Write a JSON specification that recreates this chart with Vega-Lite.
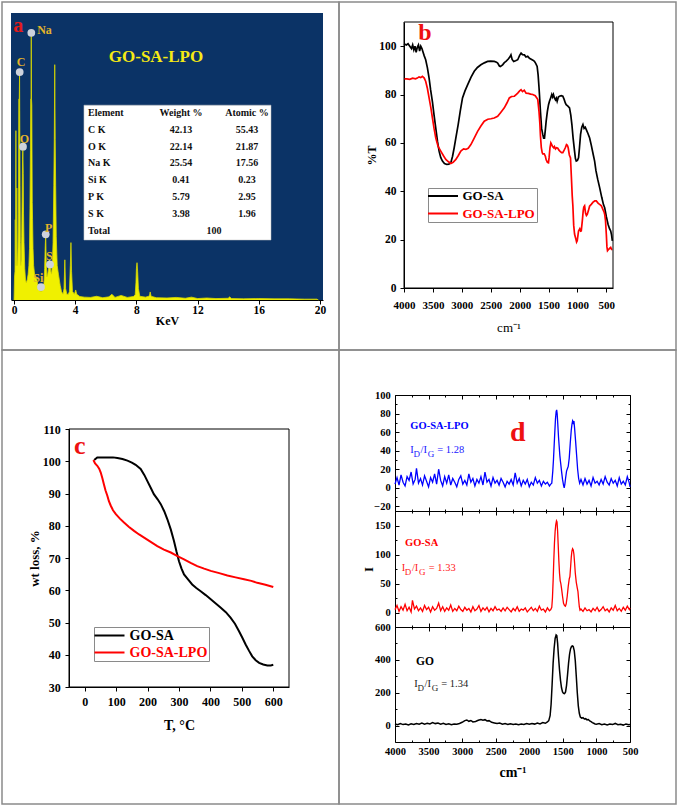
{
"$schema": "https://vega.github.io/schema/vega-lite/v6.json",
"background": "white",
"padding": {"left": 1, "top": 1, "right": 2, "bottom": 2},
"spacing": 0,
"bounds": "flush",
"columns": 2,
"resolve": {"scale": {"color": "independent"}, "legend": {"color": "independent"}},
"config": {
  "view": {"stroke": "#8a8a8a", "strokeWidth": 1.5},
  "concat": {"spacing": 0},
  "axis": {"labelFont": "Liberation Serif", "titleFont": "Liberation Serif", "labelFontWeight": "bold", "titleFontWeight": "bold", "labelColor": "#000", "titleColor": "#000", "domainColor": "#000", "tickColor": "#000", "grid": false, "labelOverlap": false, "labelFlush": false, "domainWidth": 1, "tickWidth": 1, "zindex": 1},
  "legend": {"labelFont": "Liberation Serif", "titleFont": "Liberation Serif"},
  "text": {"font": "Liberation Serif"}
},
"concat": [
{
 "width": 337, "height": 348,
 "layer": [
  {"layer": [
    {"data": {"values": [{}]}, "mark": {"type": "rect", "fill": "#0b3366"},
     "encoding": {
      "x": {"datum": -0.2, "type": "quantitative", "scale": {"domain": [-0.2, 20.2], "range": [9, 321], "nice": false, "zero": false},
            "axis": {"orient": "bottom", "offset": -50, "values": [0,1,2,3,4,5,6,7,8,9,10,11,12,13,14,15,16,17,18,19,20], "labelExpr": "datum.value % 2 === 0 ? datum.label : ''", "tickSize": {"condition": {"test": "datum.value % 2 !== 0", "value": 2}, "value": 4}, "labelPadding": 0, "labelFontSize": 11.5, "title": "KeV", "titleFontSize": 12, "titlePadding": 0}},
      "x2": {"datum": 20.2},
      "y": {"datum": 0, "type": "quantitative", "scale": {"domain": [0, 100], "range": [298, 11], "nice": false, "zero": false}, "axis": null},
      "y2": {"datum": 100}}},
    {"data": {"name": "eds", "values": [
      {"e":0,"c":0},{"e":0.03,"c":8},{"e":0.06,"c":10},{"e":0.08,"c":28},{"e":0.1,"c":12},{"e":0.12,"c":59},{"e":0.14,"c":16},{"e":0.16,"c":12},{"e":0.18,"c":39},{"e":0.2,"c":14},{"e":0.23,"c":12},{"e":0.26,"c":18},{"e":0.29,"c":30},{"e":0.31,"c":70},{"e":0.34,"c":70},{"e":0.36,"c":79},{"e":0.37,"c":66},{"e":0.39,"c":40},{"e":0.41,"c":20},{"e":0.44,"c":12},{"e":0.47,"c":14},{"e":0.5,"c":22},{"e":0.53,"c":36},{"e":0.555,"c":49},{"e":0.575,"c":53},{"e":0.6,"c":44},{"e":0.62,"c":30},{"e":0.65,"c":20},{"e":0.7,"c":11},{"e":0.75,"c":7},{"e":0.8,"c":6},{"e":0.86,"c":7},{"e":0.92,"c":9},{"e":0.97,"c":12},{"e":1.01,"c":18},{"e":1.04,"c":32},{"e":1.07,"c":52},{"e":1.09,"c":70},{"e":1.11,"c":70},{"e":1.125,"c":93},{"e":1.14,"c":70},{"e":1.16,"c":68},{"e":1.19,"c":34},{"e":1.21,"c":28},{"e":1.24,"c":18},{"e":1.28,"c":12},{"e":1.34,"c":9},{"e":1.42,"c":8},{"e":1.5,"c":7},{"e":1.6,"c":4},{"e":1.7,"c":3},{"e":1.76,"c":4},{"e":1.82,"c":3},{"e":1.9,"c":4},{"e":1.96,"c":6},{"e":2.0,"c":11},{"e":2.04,"c":19},{"e":2.07,"c":23},{"e":2.1,"c":14},{"e":2.15,"c":8},{"e":2.2,"c":9},{"e":2.26,"c":11},{"e":2.31,"c":14},{"e":2.35,"c":12.5},{"e":2.4,"c":10},{"e":2.45,"c":9},{"e":2.5,"c":12},{"e":2.55,"c":20},{"e":2.6,"c":40},{"e":2.63,"c":56},{"e":2.66,"c":82},{"e":2.69,"c":56},{"e":2.72,"c":40},{"e":2.76,"c":22},{"e":2.82,"c":12},{"e":2.9,"c":9},{"e":2.96,"c":7},{"e":3.02,"c":5},{"e":3.1,"c":3},{"e":3.2,"c":2},{"e":3.27,"c":4},{"e":3.32,"c":14},{"e":3.37,"c":4},{"e":3.45,"c":2},{"e":3.55,"c":2},{"e":3.62,"c":3},{"e":3.68,"c":12},{"e":3.72,"c":20},{"e":3.76,"c":10},{"e":3.82,"c":3},{"e":3.95,"c":2},{"e":4.03,"c":3.5},{"e":4.1,"c":2},{"e":4.3,"c":1.2},{"e":4.6,"c":1},{"e":5.0,"c":0.9},{"e":5.4,"c":1.3},{"e":5.8,"c":0.8},{"e":6.2,"c":1.1},{"e":6.4,"c":2},{"e":6.6,"c":0.9},{"e":7.0,"c":1.6},{"e":7.4,"c":0.9},{"e":7.8,"c":1.2},{"e":7.92,"c":1.8},{"e":7.97,"c":6},{"e":8.0,"c":11},{"e":8.04,"c":13},{"e":8.08,"c":10},{"e":8.13,"c":4},{"e":8.22,"c":1.3},{"e":8.6,"c":1},{"e":8.85,"c":1.4},{"e":8.9,"c":2.8},{"e":8.96,"c":1.3},{"e":9.3,"c":0.8},{"e":10.0,"c":0.7},{"e":10.6,"c":0.9},{"e":11.2,"c":0.6},{"e":11.6,"c":1},{"e":12.0,"c":0.5},{"e":12.6,"c":0.7},{"e":13.2,"c":0.5},{"e":14.0,"c":0.6},{"e":14.1,"c":1.1},{"e":14.2,"c":0.5},{"e":15.0,"c":0.4},{"e":16.0,"c":0.5},{"e":17.0,"c":0.4},{"e":18.0,"c":0.4},{"e":19.0,"c":0.3},{"e":19.8,"c":0.3},{"e":19.9,"c":0}]},
     "mark": {"type": "area", "color": "#f0f000", "interpolate": "linear"},
     "encoding": {"x": {"field": "e", "type": "quantitative"}, "y": {"field": "c", "type": "quantitative"}}},
    {"data": {"name": "eds"}, "mark": {"type": "line", "color": "#d9d900", "strokeWidth": 0.8},
     "encoding": {"x": {"field": "e", "type": "quantitative"}, "y": {"field": "c", "type": "quantitative"}}},
    {"data": {"name": "mk", "values": [
      {"el":"Na","e":1.128,"c":93.1,"lx":1.99,"ly":94},
      {"el":"C","e":0.369,"c":79.4,"lx":0.454,"ly":82.9},
      {"el":"O","e":0.585,"c":53.4,"lx":0.67,"ly":56.2},
      {"el":"P","e":2.07,"c":22.9,"lx":2.266,"ly":25.0},
      {"el":"S","e":2.35,"c":12.4,"lx":2.305,"ly":15.3},
      {"el":"Si","e":1.76,"c":4.5,"lx":1.585,"ly":7.8}]},
     "mark": {"type": "point", "filled": true, "color": "#cdd2dc", "size": 60, "opacity": 1},
     "encoding": {"x": {"field": "e", "type": "quantitative"}, "y": {"field": "c", "type": "quantitative"}}},
    {"data": {"name": "mk"}, "mark": {"type": "text", "color": "#e2b42a", "fontWeight": "bold", "fontSize": 12, "baseline": "middle", "align": "center"},
     "encoding": {"x": {"field": "lx", "type": "quantitative"}, "y": {"field": "ly", "type": "quantitative"}, "text": {"field": "el"}}},
    {"data": {"values": [{"t": "a"}]}, "mark": {"type": "text", "color": "#e31b1b", "fontWeight": "bold", "fontSize": 20, "baseline": "alphabetic", "align": "center"},
     "encoding": {"x": {"datum": 0.28, "type": "quantitative"}, "y": {"datum": 93.5, "type": "quantitative"}, "text": {"field": "t"}}},
    {"data": {"values": [{"t": "GO-SA-LPO"}]}, "mark": {"type": "text", "color": "#f5ea14", "fontWeight": "bold", "fontSize": 17, "baseline": "middle", "align": "center"},
     "encoding": {"x": {"datum": 9.28, "type": "quantitative"}, "y": {"datum": 84.7, "type": "quantitative"}, "text": {"field": "t"}}},
    {"data": {"values": [{}]}, "mark": {"type": "rect", "fill": "#ffffff", "stroke": "#bbbbbb", "strokeWidth": 0.5},
     "encoding": {"x": {"datum": 4.57, "type": "quantitative"}, "x2": {"datum": 16.8}, "y": {"datum": 20.9, "type": "quantitative"}, "y2": {"datum": 67.9}}}
  ]},
  {"data": {"values": [
     {"r":0,"el":"Element","w":"Weight %","at":"Atomic %","tt":""},
     {"r":1,"el":"C K","w":"42.13","at":"55.43","tt":""},
     {"r":2,"el":"O K","w":"22.14","at":"21.87","tt":""},
     {"r":3,"el":"Na K","w":"25.54","at":"17.56","tt":""},
     {"r":4,"el":"Si K","w":"0.41","at":"0.23","tt":""},
     {"r":5,"el":"P K","w":"5.79","at":"2.95","tt":""},
     {"r":6,"el":"S K","w":"3.98","at":"1.96","tt":""},
     {"r":7,"el":"Total","w":"","at":"","tt":"100"}]},
   "layer": [
    {"mark": {"type": "text", "align": "left", "baseline": "middle", "fontSize": 10, "fontWeight": "bold", "color": "#111"},
     "encoding": {"x": {"datum": 4.84, "type": "quantitative"}, "y": {"field": "r", "type": "quantitative", "scale": {"domain": [0, 7], "range": [110.7, 229], "nice": false, "zero": false}, "axis": null}, "text": {"field": "el"}}},
    {"mark": {"type": "text", "align": "center", "baseline": "middle", "fontSize": 10, "fontWeight": "bold", "color": "#111"},
     "encoding": {"x": {"datum": 10.92, "type": "quantitative"}, "y": {"field": "r", "type": "quantitative"}, "text": {"field": "w"}}},
    {"mark": {"type": "text", "align": "center", "baseline": "middle", "fontSize": 10, "fontWeight": "bold", "color": "#111"},
     "encoding": {"x": {"datum": 15.23, "type": "quantitative"}, "y": {"field": "r", "type": "quantitative"}, "text": {"field": "at"}}},
    {"mark": {"type": "text", "align": "center", "baseline": "middle", "fontSize": 10, "fontWeight": "bold", "color": "#111"},
     "encoding": {"x": {"datum": 13.08, "type": "quantitative"}, "y": {"field": "r", "type": "quantitative"}, "text": {"field": "tt"}}}
   ]}
 ],
 "resolve": {"scale": {"y": "independent"}, "axis": {"y": "independent"}}
},
{
 "width": 337, "height": 348,
 "layer": [
  {"data": {"values": [
{"s":"GO-SA","w":4000,"t":101},{"s":"GO-SA","w":3960,"t":100.5},{"s":"GO-SA","w":3930,"t":101},{"s":"GO-SA","w":3900,"t":100},{"s":"GO-SA","w":3870,"t":99},{"s":"GO-SA","w":3850,"t":100.5},{"s":"GO-SA","w":3830,"t":98.5},{"s":"GO-SA","w":3810,"t":100},{"s":"GO-SA","w":3790,"t":97.5},{"s":"GO-SA","w":3770,"t":99.5},{"s":"GO-SA","w":3750,"t":100.5},{"s":"GO-SA","w":3730,"t":98},{"s":"GO-SA","w":3710,"t":100},{"s":"GO-SA","w":3690,"t":99},{"s":"GO-SA","w":3670,"t":97.5},{"s":"GO-SA","w":3650,"t":96},{"s":"GO-SA","w":3625,"t":94.4},{"s":"GO-SA","w":3595,"t":91},{"s":"GO-SA","w":3566,"t":86.8},{"s":"GO-SA","w":3540,"t":82},{"s":"GO-SA","w":3508,"t":77},{"s":"GO-SA","w":3480,"t":71.5},{"s":"GO-SA","w":3450,"t":66},{"s":"GO-SA","w":3420,"t":60.5},{"s":"GO-SA","w":3393,"t":56.6},{"s":"GO-SA","w":3365,"t":54},{"s":"GO-SA","w":3335,"t":52.5},{"s":"GO-SA","w":3300,"t":51.5},{"s":"GO-SA","w":3260,"t":51.1},{"s":"GO-SA","w":3225,"t":51.2},{"s":"GO-SA","w":3190,"t":51.8},{"s":"GO-SA","w":3160,"t":54.5},{"s":"GO-SA","w":3132,"t":58},{"s":"GO-SA","w":3100,"t":62.5},{"s":"GO-SA","w":3063,"t":67.6},{"s":"GO-SA","w":3025,"t":73.5},{"s":"GO-SA","w":2988,"t":78.6},{"s":"GO-SA","w":2945,"t":81.5},{"s":"GO-SA","w":2900,"t":84},{"s":"GO-SA","w":2840,"t":87.2},{"s":"GO-SA","w":2785,"t":89.6},{"s":"GO-SA","w":2730,"t":91.2},{"s":"GO-SA","w":2670,"t":92.3},{"s":"GO-SA","w":2610,"t":93.1},{"s":"GO-SA","w":2554,"t":93.7},{"s":"GO-SA","w":2500,"t":93.8},{"s":"GO-SA","w":2438,"t":93.7},{"s":"GO-SA","w":2400,"t":93.4},{"s":"GO-SA","w":2380,"t":93},{"s":"GO-SA","w":2350,"t":91.8},{"s":"GO-SA","w":2334,"t":91.6},{"s":"GO-SA","w":2310,"t":92},{"s":"GO-SA","w":2294,"t":92.3},{"s":"GO-SA","w":2265,"t":93.2},{"s":"GO-SA","w":2236,"t":93.7},{"s":"GO-SA","w":2200,"t":94.6},{"s":"GO-SA","w":2170,"t":95.5},{"s":"GO-SA","w":2150,"t":96.4},{"s":"GO-SA","w":2130,"t":94.5},{"s":"GO-SA","w":2103,"t":93.7},{"s":"GO-SA","w":2070,"t":94},{"s":"GO-SA","w":2033,"t":94.4},{"s":"GO-SA","w":2000,"t":96.2},{"s":"GO-SA","w":1975,"t":97.1},{"s":"GO-SA","w":1950,"t":96.5},{"s":"GO-SA","w":1917,"t":96.4},{"s":"GO-SA","w":1890,"t":95.5},{"s":"GO-SA","w":1860,"t":95.8},{"s":"GO-SA","w":1830,"t":95},{"s":"GO-SA","w":1800,"t":94.6},{"s":"GO-SA","w":1770,"t":94.2},{"s":"GO-SA","w":1744,"t":93.7},{"s":"GO-SA","w":1720,"t":92.8},{"s":"GO-SA","w":1697,"t":91.6},{"s":"GO-SA","w":1680,"t":88},{"s":"GO-SA","w":1665,"t":83},{"s":"GO-SA","w":1657,"t":80},{"s":"GO-SA","w":1640,"t":73},{"s":"GO-SA","w":1620,"t":66},{"s":"GO-SA","w":1600,"t":63.5},{"s":"GO-SA","w":1585,"t":62},{"s":"GO-SA","w":1570,"t":62},{"s":"GO-SA","w":1555,"t":65.5},{"s":"GO-SA","w":1541,"t":69},{"s":"GO-SA","w":1520,"t":73},{"s":"GO-SA","w":1500,"t":75.8},{"s":"GO-SA","w":1484,"t":77.2},{"s":"GO-SA","w":1465,"t":78.5},{"s":"GO-SA","w":1444,"t":80},{"s":"GO-SA","w":1430,"t":79},{"s":"GO-SA","w":1415,"t":80},{"s":"GO-SA","w":1398,"t":78.6},{"s":"GO-SA","w":1380,"t":77.8},{"s":"GO-SA","w":1365,"t":78.5},{"s":"GO-SA","w":1351,"t":77.2},{"s":"GO-SA","w":1330,"t":79},{"s":"GO-SA","w":1311,"t":79.3},{"s":"GO-SA","w":1280,"t":79.5},{"s":"GO-SA","w":1253,"t":79.3},{"s":"GO-SA","w":1230,"t":78},{"s":"GO-SA","w":1210,"t":76.5},{"s":"GO-SA","w":1195,"t":75.8},{"s":"GO-SA","w":1165,"t":75.2},{"s":"GO-SA","w":1137,"t":74.5},{"s":"GO-SA","w":1115,"t":71.5},{"s":"GO-SA","w":1096,"t":67.6},{"s":"GO-SA","w":1075,"t":62},{"s":"GO-SA","w":1050,"t":56.6},{"s":"GO-SA","w":1035,"t":53.5},{"s":"GO-SA","w":1021,"t":52.5},{"s":"GO-SA","w":1000,"t":52.8},{"s":"GO-SA","w":981,"t":53.8},{"s":"GO-SA","w":965,"t":58},{"s":"GO-SA","w":946,"t":63.5},{"s":"GO-SA","w":925,"t":66.5},{"s":"GO-SA","w":905,"t":67.6},{"s":"GO-SA","w":885,"t":66},{"s":"GO-SA","w":865,"t":66.5},{"s":"GO-SA","w":847,"t":65.5},{"s":"GO-SA","w":820,"t":64},{"s":"GO-SA","w":789,"t":62},{"s":"GO-SA","w":760,"t":59},{"s":"GO-SA","w":730,"t":55.5},{"s":"GO-SA","w":703,"t":52.5},{"s":"GO-SA","w":680,"t":48.5},{"s":"GO-SA","w":650,"t":45},{"s":"GO-SA","w":616,"t":41.5},{"s":"GO-SA","w":580,"t":37.5},{"s":"GO-SA","w":550,"t":34.5},{"s":"GO-SA","w":529,"t":33.2},{"s":"GO-SA","w":500,"t":29.5},{"s":"GO-SA","w":471,"t":26.4},{"s":"GO-SA","w":445,"t":24.5},{"s":"GO-SA","w":425,"t":23.6},{"s":"GO-SA","w":410,"t":22},{"s":"GO-SA","w":396,"t":19.5},
{"s":"GO-SA-LPO","w":4000,"t":86.5},{"s":"GO-SA-LPO","w":3950,"t":86.5},{"s":"GO-SA-LPO","w":3900,"t":86.3},{"s":"GO-SA-LPO","w":3850,"t":86.8},{"s":"GO-SA-LPO","w":3800,"t":86.5},{"s":"GO-SA-LPO","w":3770,"t":86.8},{"s":"GO-SA-LPO","w":3740,"t":87.3},{"s":"GO-SA-LPO","w":3710,"t":87},{"s":"GO-SA-LPO","w":3682,"t":87.5},{"s":"GO-SA-LPO","w":3650,"t":86.8},{"s":"GO-SA-LPO","w":3624,"t":85.4},{"s":"GO-SA-LPO","w":3595,"t":82.5},{"s":"GO-SA-LPO","w":3566,"t":78.6},{"s":"GO-SA-LPO","w":3535,"t":74.5},{"s":"GO-SA-LPO","w":3508,"t":70.3},{"s":"GO-SA-LPO","w":3480,"t":66},{"s":"GO-SA-LPO","w":3450,"t":62},{"s":"GO-SA-LPO","w":3410,"t":58.5},{"s":"GO-SA-LPO","w":3364,"t":56.6},{"s":"GO-SA-LPO","w":3320,"t":54.8},{"s":"GO-SA-LPO","w":3277,"t":53.2},{"s":"GO-SA-LPO","w":3230,"t":52.2},{"s":"GO-SA-LPO","w":3190,"t":51.5},{"s":"GO-SA-LPO","w":3150,"t":52},{"s":"GO-SA-LPO","w":3103,"t":53.2},{"s":"GO-SA-LPO","w":3060,"t":54.8},{"s":"GO-SA-LPO","w":3017,"t":56.6},{"s":"GO-SA-LPO","w":2970,"t":57.5},{"s":"GO-SA-LPO","w":2930,"t":57.3},{"s":"GO-SA-LPO","w":2890,"t":57.8},{"s":"GO-SA-LPO","w":2843,"t":59.3},{"s":"GO-SA-LPO","w":2790,"t":61.8},{"s":"GO-SA-LPO","w":2727,"t":64.8},{"s":"GO-SA-LPO","w":2670,"t":67},{"s":"GO-SA-LPO","w":2612,"t":69},{"s":"GO-SA-LPO","w":2550,"t":69.8},{"s":"GO-SA-LPO","w":2496,"t":70},{"s":"GO-SA-LPO","w":2440,"t":70.3},{"s":"GO-SA-LPO","w":2380,"t":71},{"s":"GO-SA-LPO","w":2330,"t":72.5},{"s":"GO-SA-LPO","w":2265,"t":74.5},{"s":"GO-SA-LPO","w":2220,"t":76.5},{"s":"GO-SA-LPO","w":2178,"t":78.6},{"s":"GO-SA-LPO","w":2140,"t":79.2},{"s":"GO-SA-LPO","w":2091,"t":79.3},{"s":"GO-SA-LPO","w":2060,"t":80},{"s":"GO-SA-LPO","w":2033,"t":80.6},{"s":"GO-SA-LPO","w":2000,"t":81.5},{"s":"GO-SA-LPO","w":1975,"t":82},{"s":"GO-SA-LPO","w":1950,"t":81.2},{"s":"GO-SA-LPO","w":1920,"t":81.8},{"s":"GO-SA-LPO","w":1888,"t":80.6},{"s":"GO-SA-LPO","w":1850,"t":80.5},{"s":"GO-SA-LPO","w":1810,"t":80.2},{"s":"GO-SA-LPO","w":1773,"t":80},{"s":"GO-SA-LPO","w":1730,"t":79.5},{"s":"GO-SA-LPO","w":1700,"t":78.5},{"s":"GO-SA-LPO","w":1686,"t":77.9},{"s":"GO-SA-LPO","w":1665,"t":73},{"s":"GO-SA-LPO","w":1650,"t":68},{"s":"GO-SA-LPO","w":1640,"t":63},{"s":"GO-SA-LPO","w":1625,"t":58},{"s":"GO-SA-LPO","w":1610,"t":56},{"s":"GO-SA-LPO","w":1600,"t":55.5},{"s":"GO-SA-LPO","w":1575,"t":55.5},{"s":"GO-SA-LPO","w":1555,"t":54.5},{"s":"GO-SA-LPO","w":1541,"t":53},{"s":"GO-SA-LPO","w":1520,"t":52},{"s":"GO-SA-LPO","w":1501,"t":51.8},{"s":"GO-SA-LPO","w":1490,"t":54},{"s":"GO-SA-LPO","w":1475,"t":58},{"s":"GO-SA-LPO","w":1460,"t":60},{"s":"GO-SA-LPO","w":1445,"t":59.3},{"s":"GO-SA-LPO","w":1430,"t":58.5},{"s":"GO-SA-LPO","w":1410,"t":58},{"s":"GO-SA-LPO","w":1398,"t":58.5},{"s":"GO-SA-LPO","w":1380,"t":57.5},{"s":"GO-SA-LPO","w":1360,"t":58},{"s":"GO-SA-LPO","w":1340,"t":57.8},{"s":"GO-SA-LPO","w":1320,"t":57},{"s":"GO-SA-LPO","w":1300,"t":56.5},{"s":"GO-SA-LPO","w":1275,"t":56},{"s":"GO-SA-LPO","w":1253,"t":56},{"s":"GO-SA-LPO","w":1230,"t":57},{"s":"GO-SA-LPO","w":1210,"t":58},{"s":"GO-SA-LPO","w":1190,"t":59.3},{"s":"GO-SA-LPO","w":1175,"t":59},{"s":"GO-SA-LPO","w":1160,"t":58},{"s":"GO-SA-LPO","w":1140,"t":55},{"s":"GO-SA-LPO","w":1120,"t":53.8},{"s":"GO-SA-LPO","w":1105,"t":46},{"s":"GO-SA-LPO","w":1090,"t":38},{"s":"GO-SA-LPO","w":1079,"t":34},{"s":"GO-SA-LPO","w":1065,"t":26},{"s":"GO-SA-LPO","w":1050,"t":22.3},{"s":"GO-SA-LPO","w":1030,"t":20.5},{"s":"GO-SA-LPO","w":1015,"t":19},{"s":"GO-SA-LPO","w":1004,"t":19.5},{"s":"GO-SA-LPO","w":990,"t":22},{"s":"GO-SA-LPO","w":981,"t":23.6},{"s":"GO-SA-LPO","w":960,"t":24.5},{"s":"GO-SA-LPO","w":945,"t":23.5},{"s":"GO-SA-LPO","w":934,"t":23.6},{"s":"GO-SA-LPO","w":915,"t":28},{"s":"GO-SA-LPO","w":900,"t":32},{"s":"GO-SA-LPO","w":890,"t":33.5},{"s":"GO-SA-LPO","w":876,"t":34},{"s":"GO-SA-LPO","w":860,"t":31},{"s":"GO-SA-LPO","w":845,"t":30},{"s":"GO-SA-LPO","w":830,"t":30.5},{"s":"GO-SA-LPO","w":810,"t":32},{"s":"GO-SA-LPO","w":790,"t":33.8},{"s":"GO-SA-LPO","w":761,"t":34.6},{"s":"GO-SA-LPO","w":730,"t":35.5},{"s":"GO-SA-LPO","w":700,"t":36},{"s":"GO-SA-LPO","w":674,"t":36},{"s":"GO-SA-LPO","w":640,"t":35},{"s":"GO-SA-LPO","w":610,"t":34.5},{"s":"GO-SA-LPO","w":587,"t":34},{"s":"GO-SA-LPO","w":560,"t":32.5},{"s":"GO-SA-LPO","w":540,"t":31.5},{"s":"GO-SA-LPO","w":529,"t":30.5},{"s":"GO-SA-LPO","w":515,"t":28},{"s":"GO-SA-LPO","w":500,"t":22},{"s":"GO-SA-LPO","w":490,"t":17},{"s":"GO-SA-LPO","w":480,"t":15.4},{"s":"GO-SA-LPO","w":460,"t":16},{"s":"GO-SA-LPO","w":440,"t":16.5},{"s":"GO-SA-LPO","w":425,"t":16.8},{"s":"GO-SA-LPO","w":410,"t":16},{"s":"GO-SA-LPO","w":396,"t":16}]},
   "mark": {"type": "line", "strokeWidth": 1.7},
   "encoding": {
    "x": {"field": "w", "type": "quantitative", "scale": {"domain": [4000, 385], "range": [65, 274], "nice": false, "zero": false},
          "axis": {"orient": "bottom", "offset": -62, "values": [500,750,1000,1250,1500,1750,2000,2250,2500,2750,3000,3250,3500,3750,4000], "format": "d", "labelExpr": "datum.value % 500 === 0 ? datum.label : ''", "tickSize": {"condition": {"test": "datum.value % 500 !== 0", "value": 2}, "value": 4}, "labelPadding": 7, "labelFontSize": 11, "title": "cm⁻¹", "titleFontWeight": "normal", "titleFontSize": 13, "titlePadding": 11}},
    "y": {"field": "t", "type": "quantitative", "scale": {"domain": [0, 110], "range": [286, 20], "nice": false, "zero": false},
          "axis": {"orient": "left", "offset": -65, "values": [0,10,20,30,40,50,60,70,80,90,100,110], "labelExpr": "datum.value % 20 === 0 ? datum.label : ''", "tickSize": {"condition": {"test": "datum.value % 20 !== 0", "value": 2}, "value": 4}, "labelPadding": 4, "labelFontSize": 11.5, "title": "%T", "titleFontSize": 12, "titlePadding": 0}},
    "color": {"field": "s", "type": "nominal", "scale": {"domain": ["GO-SA", "GO-SA-LPO"], "range": ["#000000", "#ff0000"]},
              "legend": {"orient": "none", "legendX": 89, "legendY": 186, "title": null, "symbolType": "M-3,0L3,0", "symbolSize": 100, "symbolStrokeWidth": 2, "symbolOffset": 7, "labelOffset": 13, "rowPadding": 3.5, "padding": 1.5, "strokeColor": "#8a8a8a", "fillColor": "#ffffff", "labelFontSize": 13, "labelFontWeight": "bold",
                         "encode": {"labels": {"update": {"fill": {"signal": "datum.value === 'GO-SA' ? '#000000' : '#ff0000'"}}}}}}
   }},
  {"data": {"values": [{}]}, "mark": {"type": "rect", "fillOpacity": 0, "stroke": "#000", "strokeWidth": 1},
   "encoding": {"x": {"datum": 4000, "type": "quantitative"}, "x2": {"datum": 385}, "y": {"datum": 0, "type": "quantitative"}, "y2": {"datum": 110}}},
  {"data": {"values": [{"t": "b"}]}, "mark": {"type": "text", "color": "#ee1111", "fontWeight": "bold", "fontSize": 24, "baseline": "alphabetic", "align": "center"},
   "encoding": {"x": {"datum": 3637, "type": "quantitative"}, "y": {"datum": 102.6, "type": "quantitative"}, "text": {"field": "t"}}}
 ]
},
{
 "width": 337, "height": 454,
 "layer": [
  {"data": {"values": [
{"s":"GO-SA","T":30,"m":100.4},{"s":"GO-SA","T":40,"m":101.2},{"s":"GO-SA","T":55,"m":101.2},{"s":"GO-SA","T":72,"m":101.2},{"s":"GO-SA","T":90,"m":101.2},{"s":"GO-SA","T":104,"m":101},{"s":"GO-SA","T":120,"m":100.7},{"s":"GO-SA","T":136,"m":100.2},{"s":"GO-SA","T":150,"m":99.6},{"s":"GO-SA","T":162,"m":98.9},{"s":"GO-SA","T":178,"m":97.6},{"s":"GO-SA","T":190,"m":95.7},{"s":"GO-SA","T":199,"m":93.9},{"s":"GO-SA","T":210,"m":91.8},{"s":"GO-SA","T":220,"m":89.8},{"s":"GO-SA","T":232,"m":88.2},{"s":"GO-SA","T":242,"m":86.7},{"s":"GO-SA","T":253,"m":84.5},{"s":"GO-SA","T":263,"m":82},{"s":"GO-SA","T":274,"m":78.8},{"s":"GO-SA","T":284,"m":75.3},{"s":"GO-SA","T":292,"m":72},{"s":"GO-SA","T":300,"m":69},{"s":"GO-SA","T":308,"m":66.7},{"s":"GO-SA","T":316,"m":64.9},{"s":"GO-SA","T":330,"m":63.2},{"s":"GO-SA","T":342,"m":61.8},{"s":"GO-SA","T":355,"m":60.7},{"s":"GO-SA","T":369,"m":59.7},{"s":"GO-SA","T":385,"m":58.5},{"s":"GO-SA","T":401,"m":57.2},{"s":"GO-SA","T":417,"m":55.9},{"s":"GO-SA","T":433,"m":54.6},{"s":"GO-SA","T":449,"m":53.2},{"s":"GO-SA","T":464,"m":51.5},{"s":"GO-SA","T":478,"m":49.6},{"s":"GO-SA","T":491,"m":47.3},{"s":"GO-SA","T":502,"m":45.2},{"s":"GO-SA","T":512,"m":43.2},{"s":"GO-SA","T":523,"m":41.2},{"s":"GO-SA","T":533,"m":39.5},{"s":"GO-SA","T":544,"m":38.3},{"s":"GO-SA","T":555,"m":37.5},{"s":"GO-SA","T":568,"m":37},{"s":"GO-SA","T":581,"m":36.7},{"s":"GO-SA","T":592,"m":36.7},{"s":"GO-SA","T":600,"m":36.9},
{"s":"GO-SA-LPO","T":27.6,"m":100.4},{"s":"GO-SA-LPO","T":33,"m":99.3},{"s":"GO-SA-LPO","T":40,"m":98.6},{"s":"GO-SA-LPO","T":46,"m":97.7},{"s":"GO-SA-LPO","T":51,"m":96.5},{"s":"GO-SA-LPO","T":56,"m":94.8},{"s":"GO-SA-LPO","T":61,"m":92.9},{"s":"GO-SA-LPO","T":66,"m":91},{"s":"GO-SA-LPO","T":72,"m":89.3},{"s":"GO-SA-LPO","T":77,"m":87.6},{"s":"GO-SA-LPO","T":83,"m":86.2},{"s":"GO-SA-LPO","T":90,"m":84.8},{"s":"GO-SA-LPO","T":99,"m":83.6},{"s":"GO-SA-LPO","T":112,"m":82.2},{"s":"GO-SA-LPO","T":125,"m":81},{"s":"GO-SA-LPO","T":140,"m":79.7},{"s":"GO-SA-LPO","T":157,"m":78.4},{"s":"GO-SA-LPO","T":173,"m":77.3},{"s":"GO-SA-LPO","T":189,"m":76.3},{"s":"GO-SA-LPO","T":210,"m":75},{"s":"GO-SA-LPO","T":231,"m":73.7},{"s":"GO-SA-LPO","T":252,"m":72.6},{"s":"GO-SA-LPO","T":274,"m":71.7},{"s":"GO-SA-LPO","T":295,"m":70.6},{"s":"GO-SA-LPO","T":316,"m":69.6},{"s":"GO-SA-LPO","T":337,"m":68.5},{"s":"GO-SA-LPO","T":358,"m":67.5},{"s":"GO-SA-LPO","T":380,"m":66.7},{"s":"GO-SA-LPO","T":401,"m":66},{"s":"GO-SA-LPO","T":428,"m":65.3},{"s":"GO-SA-LPO","T":454,"m":64.6},{"s":"GO-SA-LPO","T":480,"m":64},{"s":"GO-SA-LPO","T":507,"m":63.4},{"s":"GO-SA-LPO","T":530,"m":62.9},{"s":"GO-SA-LPO","T":549,"m":62.3},{"s":"GO-SA-LPO","T":575,"m":61.7},{"s":"GO-SA-LPO","T":600,"m":61}]},
   "mark": {"type": "line", "strokeWidth": 2},
   "encoding": {
    "x": {"field": "T", "type": "quantitative", "scale": {"domain": [-50, 650], "range": [67, 287], "nice": false, "zero": false},
          "axis": {"orient": "bottom", "offset": -117, "values": [0,50,100,150,200,250,300,350,400,450,500,550,600], "labelExpr": "datum.value % 100 === 0 ? datum.label : ''", "tickSize": {"condition": {"test": "datum.value % 100 !== 0", "value": 2}, "value": 4}, "labelPadding": 5, "labelFontSize": 12, "title": "T, °C", "titleFontSize": 14, "titlePadding": 11}},
    "y": {"field": "m", "type": "quantitative", "scale": {"domain": [30, 110], "range": [337, 79], "nice": false, "zero": false},
          "axis": {"orient": "left", "offset": -67, "values": [30,35,40,45,50,55,60,65,70,75,80,85,90,95,100,105,110], "labelExpr": "datum.value % 10 === 0 ? datum.label : ''", "tickSize": {"condition": {"test": "datum.value % 10 !== 0", "value": 2}, "value": 4}, "labelPadding": 4.7, "labelFontSize": 12, "title": "wt loss, %", "titleFontSize": 13, "titlePadding": 1}},
    "color": {"field": "s", "type": "nominal", "scale": {"domain": ["GO-SA", "GO-SA-LPO"], "range": ["#000000", "#ff0000"]},
              "legend": {"orient": "none", "legendX": 92, "legendY": 277, "title": null, "symbolType": "M-3,0L3,0", "symbolSize": 100, "symbolStrokeWidth": 2, "symbolOffset": 7, "labelOffset": 13, "rowPadding": 3, "padding": 1.5, "strokeColor": "#8a8a8a", "fillColor": "#ffffff", "labelFontSize": 14, "labelFontWeight": "bold",
                         "encode": {"labels": {"update": {"fill": {"signal": "datum.value === 'GO-SA' ? '#000000' : '#ff0000'"}}}}}}
   }},
  {"data": {"values": [{}]}, "mark": {"type": "rect", "fillOpacity": 0, "stroke": "#000", "strokeWidth": 1},
   "encoding": {"x": {"datum": -50, "type": "quantitative"}, "x2": {"datum": 650}, "y": {"datum": 30, "type": "quantitative"}, "y2": {"datum": 110}}},
  {"data": {"values": [{"t": "c"}]}, "mark": {"type": "text", "color": "#ee1111", "fontWeight": "bold", "fontSize": 26, "baseline": "alphabetic", "align": "center"},
   "encoding": {"x": {"datum": -16, "type": "quantitative"}, "y": {"datum": 102.2, "type": "quantitative"}, "text": {"field": "t"}}}
 ]
},
{
 "width": 337, "height": 454,
 "layer": [
  {"data": {"values": [{"w":4000,"v":4},{"w":3970,"v":11},{"w":3940,"v":3},{"w":3910,"v":14},{"w":3880,"v":6},{"w":3850,"v":2},{"w":3820,"v":12},{"w":3790,"v":8},{"w":3760,"v":17},{"w":3730,"v":4},{"w":3700,"v":9},{"w":3680,"v":21},{"w":3650,"v":5},{"w":3620,"v":10},{"w":3590,"v":3},{"w":3560,"v":13},{"w":3530,"v":7},{"w":3500,"v":1},{"w":3470,"v":11},{"w":3440,"v":6},{"w":3410,"v":15},{"w":3380,"v":4},{"w":3350,"v":20},{"w":3320,"v":8},{"w":3290,"v":2},{"w":3260,"v":12},{"w":3230,"v":5},{"w":3200,"v":14},{"w":3170,"v":3},{"w":3140,"v":10},{"w":3110,"v":6},{"w":3080,"v":1},{"w":3050,"v":9},{"w":3020,"v":13},{"w":2990,"v":4},{"w":2960,"v":8},{"w":2930,"v":3},{"w":2900,"v":15},{"w":2870,"v":6},{"w":2840,"v":10},{"w":2810,"v":2},{"w":2780,"v":9},{"w":2750,"v":5},{"w":2720,"v":12},{"w":2690,"v":3},{"w":2660,"v":17},{"w":2630,"v":6},{"w":2600,"v":9},{"w":2570,"v":2},{"w":2540,"v":11},{"w":2510,"v":5},{"w":2480,"v":8},{"w":2450,"v":3},{"w":2420,"v":10},{"w":2390,"v":6},{"w":2360,"v":1},{"w":2330,"v":7},{"w":2300,"v":4},{"w":2270,"v":9},{"w":2240,"v":3},{"w":2210,"v":16},{"w":2180,"v":5},{"w":2150,"v":10},{"w":2120,"v":2},{"w":2090,"v":8},{"w":2060,"v":4},{"w":2030,"v":9},{"w":2000,"v":1},{"w":1970,"v":6},{"w":1940,"v":3},{"w":1910,"v":11},{"w":1880,"v":5},{"w":1850,"v":8},{"w":1820,"v":2},{"w":1790,"v":7},{"w":1760,"v":4},{"w":1730,"v":6},{"w":1700,"v":2},{"w":1680,"v":4},{"w":1665,"v":5},{"w":1650,"v":18},{"w":1640,"v":30},{"w":1630,"v":45},{"w":1620,"v":60},{"w":1610,"v":74},{"w":1600,"v":82},{"w":1592,"v":84},{"w":1585,"v":80},{"w":1575,"v":68},{"w":1565,"v":55},{"w":1555,"v":45},{"w":1545,"v":35},{"w":1535,"v":28},{"w":1520,"v":18},{"w":1505,"v":9},{"w":1490,"v":3},{"w":1480,"v":0},{"w":1470,"v":4},{"w":1460,"v":10},{"w":1445,"v":18},{"w":1430,"v":21},{"w":1420,"v":23},{"w":1405,"v":32},{"w":1390,"v":48},{"w":1375,"v":62},{"w":1365,"v":68},{"w":1355,"v":72},{"w":1345,"v":70},{"w":1335,"v":72},{"w":1325,"v":64},{"w":1310,"v":50},{"w":1295,"v":35},{"w":1280,"v":20},{"w":1265,"v":10},{"w":1250,"v":5},{"w":1230,"v":9},{"w":1200,"v":3},{"w":1170,"v":10},{"w":1140,"v":4},{"w":1110,"v":8},{"w":1080,"v":2},{"w":1050,"v":11},{"w":1020,"v":5},{"w":990,"v":7},{"w":960,"v":3},{"w":930,"v":9},{"w":900,"v":4},{"w":870,"v":12},{"w":840,"v":6},{"w":810,"v":3},{"w":780,"v":10},{"w":750,"v":5},{"w":720,"v":8},{"w":690,"v":2},{"w":660,"v":11},{"w":630,"v":4},{"w":600,"v":7},{"w":570,"v":3},{"w":540,"v":12},{"w":510,"v":5},{"w":500,"v":1}]},
   "layer": [
    {"mark": {"type": "line", "color": "#0000ff", "strokeWidth": 1.3},
     "encoding": {
      "x": {"field": "w", "type": "quantitative", "scale": {"domain": [4000, 500], "range": [56, 291], "nice": false, "zero": false},
            "axis": {"orient": "bottom", "offset": -293, "values": [500,750,1000,1250,1500,1750,2000,2250,2500,2750,3000,3250,3500,3750,4000], "labels": false, "title": null, "tickSize": {"condition": {"test": "datum.value % 500 !== 0", "value": -2}, "value": -4}}},
      "y": {"field": "v", "type": "quantitative", "scale": {"domain": [-25, 100], "range": [161, 45], "nice": false, "zero": false},
            "axis": {"orient": "left", "offset": -56, "values": [-20,-10,0,10,20,30,40,50,60,70,80,90,100], "labelExpr": "datum.value % 20 === 0 ? datum.label : ''", "tickSize": {"condition": {"test": "datum.value % 20 !== 0", "value": -2}, "value": -4}, "labelPadding": 8.7, "labelFontSize": 10.5, "title": null}}}},
    {"data": {"values": [{}]}, "mark": {"type": "point", "opacity": 0},
     "encoding": {
      "x": {"datum": 4000, "type": "quantitative", "axis": {"orient": "top", "offset": -45, "values": [500,750,1000,1250,1500,1750,2000,2250,2500,2750,3000,3250,3500,3750,4000], "labels": false, "title": null, "tickSize": {"condition": {"test": "datum.value % 500 !== 0", "value": -2}, "value": -4}}},
      "y": {"datum": 0, "type": "quantitative", "axis": {"orient": "right", "offset": -46, "values": [-20,-10,0,10,20,30,40,50,60,70,80,90,100], "labels": false, "title": null, "tickSize": {"condition": {"test": "datum.value % 20 !== 0", "value": -2}, "value": -4}}}}},
    {"data": {"values": [{"t": "GO-SA-LPO"}]}, "mark": {"type": "text", "align": "left", "baseline": "middle", "fontWeight": "bold", "fontSize": 10.5, "color": "#0000ff"},
     "encoding": {"x": {"datum": 3772, "type": "quantitative", "axis": null}, "y": {"datum": 66.6, "type": "quantitative", "axis": null}, "text": {"field": "t"}}},
    {"data": {"name": "r1", "values": [{"t":"I","x":3772,"k":"n"},{"t":"D","x":3725,"k":"s"},{"t":"/I","x":3620,"k":"n"},{"t":"G","x":3513,"k":"s"},{"t":"= 1.28","x":3370,"k":"n"}]},
     "transform": [{"filter": "datum.k === 'n'"}],
     "mark": {"type": "text", "align": "left", "baseline": "middle", "fontSize": 10.5, "color": "#2020ff"},
     "encoding": {"x": {"field": "x", "type": "quantitative", "axis": null}, "y": {"datum": 40.7, "type": "quantitative", "axis": null}, "text": {"field": "t"}}},
    {"data": {"name": "r1"}, "transform": [{"filter": "datum.k === 's'"}],
     "mark": {"type": "text", "align": "left", "baseline": "middle", "fontSize": 9, "dy": 4, "color": "#2020ff"},
     "encoding": {"x": {"field": "x", "type": "quantitative", "axis": null}, "y": {"datum": 40.7, "type": "quantitative", "axis": null}, "text": {"field": "t"}}},
    {"data": {"values": [{"t": "d"}]}, "mark": {"type": "text", "align": "center", "baseline": "alphabetic", "fontWeight": "bold", "fontSize": 28, "color": "#ee1111"},
     "encoding": {"x": {"datum": 2171, "type": "quantitative", "axis": null}, "y": {"datum": 50.4, "type": "quantitative", "axis": null}, "text": {"field": "t"}}}
   ],
   "resolve": {"axis": {"x": "independent", "y": "independent"}}
  },
  {"data": {"values": [{"w":4000,"v":5},{"w":3970,"v":12},{"w":3940,"v":2},{"w":3910,"v":10},{"w":3880,"v":4},{"w":3850,"v":14},{"w":3820,"v":3},{"w":3790,"v":9},{"w":3760,"v":1},{"w":3740,"v":21},{"w":3710,"v":6},{"w":3680,"v":11},{"w":3650,"v":3},{"w":3620,"v":8},{"w":3590,"v":2},{"w":3560,"v":12},{"w":3530,"v":5},{"w":3500,"v":9},{"w":3470,"v":1},{"w":3440,"v":10},{"w":3410,"v":4},{"w":3380,"v":7},{"w":3350,"v":16},{"w":3320,"v":3},{"w":3290,"v":10},{"w":3260,"v":2},{"w":3230,"v":8},{"w":3200,"v":4},{"w":3170,"v":13},{"w":3140,"v":2},{"w":3110,"v":7},{"w":3080,"v":3},{"w":3050,"v":11},{"w":3020,"v":5},{"w":2990,"v":2},{"w":2960,"v":9},{"w":2930,"v":4},{"w":2900,"v":7},{"w":2870,"v":1},{"w":2840,"v":10},{"w":2810,"v":3},{"w":2780,"v":6},{"w":2750,"v":12},{"w":2720,"v":2},{"w":2690,"v":8},{"w":2660,"v":4},{"w":2630,"v":9},{"w":2600,"v":1},{"w":2570,"v":7},{"w":2540,"v":3},{"w":2510,"v":10},{"w":2480,"v":4},{"w":2450,"v":6},{"w":2420,"v":2},{"w":2390,"v":8},{"w":2360,"v":3},{"w":2330,"v":9},{"w":2300,"v":5},{"w":2270,"v":1},{"w":2240,"v":7},{"w":2210,"v":3},{"w":2180,"v":10},{"w":2150,"v":2},{"w":2120,"v":6},{"w":2090,"v":4},{"w":2060,"v":8},{"w":2030,"v":1},{"w":2000,"v":5},{"w":1970,"v":9},{"w":1940,"v":3},{"w":1910,"v":7},{"w":1880,"v":2},{"w":1850,"v":11},{"w":1820,"v":4},{"w":1790,"v":6},{"w":1760,"v":1},{"w":1730,"v":8},{"w":1700,"v":3},{"w":1680,"v":5},{"w":1665,"v":9},{"w":1655,"v":25},{"w":1645,"v":55},{"w":1635,"v":90},{"w":1625,"v":120},{"w":1615,"v":140},{"w":1605,"v":152},{"w":1595,"v":158},{"w":1587,"v":156},{"w":1578,"v":140},{"w":1570,"v":118},{"w":1560,"v":90},{"w":1550,"v":68},{"w":1540,"v":55},{"w":1530,"v":50},{"w":1520,"v":42},{"w":1505,"v":28},{"w":1490,"v":16},{"w":1475,"v":12},{"w":1462,"v":11},{"w":1450,"v":15},{"w":1435,"v":28},{"w":1420,"v":45},{"w":1405,"v":58},{"w":1395,"v":62},{"w":1385,"v":78},{"w":1375,"v":95},{"w":1365,"v":106},{"w":1355,"v":110},{"w":1345,"v":108},{"w":1335,"v":100},{"w":1325,"v":85},{"w":1315,"v":68},{"w":1300,"v":52},{"w":1285,"v":42},{"w":1275,"v":36},{"w":1265,"v":22},{"w":1255,"v":10},{"w":1245,"v":4},{"w":1230,"v":6},{"w":1200,"v":2},{"w":1170,"v":8},{"w":1140,"v":3},{"w":1110,"v":5},{"w":1080,"v":1},{"w":1050,"v":7},{"w":1020,"v":3},{"w":990,"v":9},{"w":960,"v":2},{"w":930,"v":5},{"w":900,"v":10},{"w":870,"v":3},{"w":840,"v":6},{"w":810,"v":1},{"w":780,"v":8},{"w":750,"v":4},{"w":720,"v":12},{"w":690,"v":3},{"w":660,"v":7},{"w":630,"v":2},{"w":600,"v":9},{"w":570,"v":4},{"w":540,"v":11},{"w":510,"v":5},{"w":500,"v":8}]},
   "layer": [
    {"mark": {"type": "line", "color": "#ff0000", "strokeWidth": 1.3},
     "encoding": {
      "x": {"field": "w", "type": "quantitative", "scale": {"domain": [4000, 500], "range": [56, 291], "nice": false, "zero": false},
            "axis": {"orient": "bottom", "offset": -177, "values": [500,750,1000,1250,1500,1750,2000,2250,2500,2750,3000,3250,3500,3750,4000], "labels": false, "title": null, "tickSize": {"condition": {"test": "datum.value % 500 !== 0", "value": -2}, "value": -4}}},
      "y": {"field": "v", "type": "quantitative", "scale": {"domain": [-25, 175], "range": [277, 161], "nice": false, "zero": false},
            "axis": {"orient": "left", "offset": -56, "values": [0,25,50,75,100,125,150], "labelExpr": "datum.value % 50 === 0 ? datum.label : ''", "tickSize": {"condition": {"test": "datum.value % 50 !== 0", "value": -2}, "value": -4}, "labelPadding": 8.7, "labelFontSize": 10.5, "title": "I", "titleFontSize": 13, "titlePadding": -1}}}},
    {"data": {"values": [{}]}, "mark": {"type": "point", "opacity": 0},
     "encoding": {
      "x": {"datum": 4000, "type": "quantitative", "axis": {"orient": "top", "offset": -161, "values": [500,750,1000,1250,1500,1750,2000,2250,2500,2750,3000,3250,3500,3750,4000], "labels": false, "title": null, "tickSize": {"condition": {"test": "datum.value % 500 !== 0", "value": -2}, "value": -4}}},
      "y": {"datum": 0, "type": "quantitative", "axis": {"orient": "right", "offset": -46, "values": [0,25,50,75,100,125,150], "labels": false, "title": null, "tickSize": {"condition": {"test": "datum.value % 50 !== 0", "value": -2}, "value": -4}}}}},
    {"data": {"values": [{"t": "GO-SA"}]}, "mark": {"type": "text", "align": "left", "baseline": "middle", "fontWeight": "bold", "fontSize": 10.5, "color": "#ff0000"},
     "encoding": {"x": {"datum": 3851, "type": "quantitative", "axis": null}, "y": {"datum": 119.3, "type": "quantitative", "axis": null}, "text": {"field": "t"}}},
    {"data": {"name": "r2", "values": [{"t":"I","x":3900,"k":"n"},{"t":"D","x":3853,"k":"s"},{"t":"/I","x":3748,"k":"n"},{"t":"G","x":3641,"k":"s"},{"t":"= 1.33","x":3498,"k":"n"}]},
     "transform": [{"filter": "datum.k === 'n'"}],
     "mark": {"type": "text", "align": "left", "baseline": "middle", "fontSize": 10.5, "color": "#ff2020"},
     "encoding": {"x": {"field": "x", "type": "quantitative", "axis": null}, "y": {"datum": 77, "type": "quantitative", "axis": null}, "text": {"field": "t"}}},
    {"data": {"name": "r2"}, "transform": [{"filter": "datum.k === 's'"}],
     "mark": {"type": "text", "align": "left", "baseline": "middle", "fontSize": 9, "dy": 4, "color": "#ff2020"},
     "encoding": {"x": {"field": "x", "type": "quantitative", "axis": null}, "y": {"datum": 77, "type": "quantitative", "axis": null}, "text": {"field": "t"}}}
   ],
   "resolve": {"axis": {"x": "independent", "y": "independent"}}
  },
  {"data": {"values": [{"w":4000,"v":10},{"w":3960,"v":5},{"w":3920,"v":12},{"w":3880,"v":6},{"w":3840,"v":9},{"w":3800,"v":4},{"w":3760,"v":11},{"w":3720,"v":7},{"w":3680,"v":13},{"w":3640,"v":8},{"w":3600,"v":15},{"w":3560,"v":9},{"w":3520,"v":14},{"w":3480,"v":10},{"w":3440,"v":18},{"w":3400,"v":12},{"w":3360,"v":16},{"w":3320,"v":9},{"w":3280,"v":14},{"w":3240,"v":7},{"w":3200,"v":11},{"w":3160,"v":5},{"w":3120,"v":10},{"w":3080,"v":8},{"w":3040,"v":13},{"w":3000,"v":20},{"w":2960,"v":30},{"w":2930,"v":34},{"w":2900,"v":26},{"w":2870,"v":31},{"w":2840,"v":22},{"w":2800,"v":25},{"w":2760,"v":32},{"w":2720,"v":37},{"w":2690,"v":33},{"w":2660,"v":36},{"w":2630,"v":28},{"w":2600,"v":30},{"w":2560,"v":20},{"w":2520,"v":16},{"w":2480,"v":12},{"w":2440,"v":15},{"w":2400,"v":8},{"w":2360,"v":12},{"w":2320,"v":7},{"w":2280,"v":11},{"w":2240,"v":6},{"w":2200,"v":10},{"w":2160,"v":5},{"w":2120,"v":9},{"w":2080,"v":7},{"w":2040,"v":12},{"w":2000,"v":8},{"w":1960,"v":13},{"w":1920,"v":9},{"w":1880,"v":16},{"w":1840,"v":10},{"w":1800,"v":18},{"w":1760,"v":14},{"w":1730,"v":22},{"w":1710,"v":30},{"w":1690,"v":60},{"w":1675,"v":130},{"w":1660,"v":250},{"w":1645,"v":380},{"w":1630,"v":470},{"w":1615,"v":530},{"w":1600,"v":552},{"w":1590,"v":548},{"w":1578,"v":500},{"w":1565,"v":420},{"w":1550,"v":340},{"w":1535,"v":275},{"w":1520,"v":230},{"w":1505,"v":205},{"w":1490,"v":196},{"w":1475,"v":194},{"w":1460,"v":205},{"w":1445,"v":245},{"w":1430,"v":310},{"w":1415,"v":380},{"w":1400,"v":435},{"w":1385,"v":468},{"w":1370,"v":482},{"w":1355,"v":485},{"w":1345,"v":480},{"w":1330,"v":455},{"w":1315,"v":395},{"w":1300,"v":300},{"w":1285,"v":200},{"w":1270,"v":120},{"w":1255,"v":75},{"w":1240,"v":52},{"w":1220,"v":45},{"w":1200,"v":48},{"w":1180,"v":40},{"w":1160,"v":42},{"w":1140,"v":35},{"w":1120,"v":37},{"w":1100,"v":28},{"w":1080,"v":24},{"w":1060,"v":18},{"w":1040,"v":14},{"w":1020,"v":10},{"w":1000,"v":8},{"w":960,"v":12},{"w":920,"v":5},{"w":880,"v":9},{"w":840,"v":4},{"w":800,"v":10},{"w":760,"v":6},{"w":720,"v":13},{"w":680,"v":5},{"w":640,"v":8},{"w":600,"v":3},{"w":560,"v":10},{"w":520,"v":5},{"w":500,"v":7}]},
   "layer": [
    {"mark": {"type": "line", "color": "#000000", "strokeWidth": 1.5},
     "encoding": {
      "x": {"field": "w", "type": "quantitative", "scale": {"domain": [4000, 500], "range": [56, 291], "nice": false, "zero": false},
            "axis": {"orient": "bottom", "offset": -62, "values": [500,750,1000,1250,1500,1750,2000,2250,2500,2750,3000,3250,3500,3750,4000], "format": "d", "labelExpr": "datum.value % 500 === 0 ? datum.label : ''", "tickSize": {"condition": {"test": "datum.value % 500 !== 0", "value": -2}, "value": -4}, "labelPadding": 8.2, "labelFontSize": 10.5, "title": "cm⁻¹", "titleFontSize": 14, "titlePadding": 6.5}},
      "y": {"field": "v", "type": "quantitative", "scale": {"domain": [-100, 600], "range": [392, 277], "nice": false, "zero": false},
            "axis": {"orient": "left", "offset": -56, "values": [0,100,200,300,400,500,600], "labelExpr": "datum.value % 200 === 0 ? datum.label : ''", "tickSize": {"condition": {"test": "datum.value % 200 !== 0", "value": -2}, "value": -4}, "labelPadding": 8.7, "labelFontSize": 10.5, "title": null}}}},
    {"data": {"values": [{}]}, "mark": {"type": "point", "opacity": 0},
     "encoding": {
      "x": {"datum": 4000, "type": "quantitative", "axis": {"orient": "top", "offset": -277, "values": [500,750,1000,1250,1500,1750,2000,2250,2500,2750,3000,3250,3500,3750,4000], "labels": false, "title": null, "tickSize": {"condition": {"test": "datum.value % 500 !== 0", "value": -2}, "value": -4}}},
      "y": {"datum": 0, "type": "quantitative", "axis": {"orient": "right", "offset": -46, "values": [0,100,200,300,400,500,600], "labels": false, "title": null, "tickSize": {"condition": {"test": "datum.value % 200 !== 0", "value": -2}, "value": -4}}}}},
    {"data": {"values": [{"t": "GO"}]}, "mark": {"type": "text", "align": "left", "baseline": "middle", "fontWeight": "bold", "fontSize": 11.5, "color": "#000000"},
     "encoding": {"x": {"datum": 3687, "type": "quantitative", "axis": null}, "y": {"datum": 388, "type": "quantitative", "axis": null}, "text": {"field": "t"}}},
    {"data": {"name": "r3", "values": [{"t":"I","x":3713,"k":"n"},{"t":"D","x":3666,"k":"s"},{"t":"/I","x":3561,"k":"n"},{"t":"G","x":3454,"k":"s"},{"t":"= 1.34","x":3311,"k":"n"}]},
     "transform": [{"filter": "datum.k === 'n'"}],
     "mark": {"type": "text", "align": "left", "baseline": "middle", "fontSize": 10.5, "color": "#222222"},
     "encoding": {"x": {"field": "x", "type": "quantitative", "axis": null}, "y": {"datum": 255, "type": "quantitative", "axis": null}, "text": {"field": "t"}}},
    {"data": {"name": "r3"}, "transform": [{"filter": "datum.k === 's'"}],
     "mark": {"type": "text", "align": "left", "baseline": "middle", "fontSize": 9, "dy": 4, "color": "#222222"},
     "encoding": {"x": {"field": "x", "type": "quantitative", "axis": null}, "y": {"datum": 255, "type": "quantitative", "axis": null}, "text": {"field": "t"}}}
   ],
   "resolve": {"axis": {"x": "independent", "y": "independent"}}
  }
 ],
 "resolve": {"scale": {"x": "independent", "y": "independent"}, "axis": {"x": "independent", "y": "independent"}}
}
]
}
